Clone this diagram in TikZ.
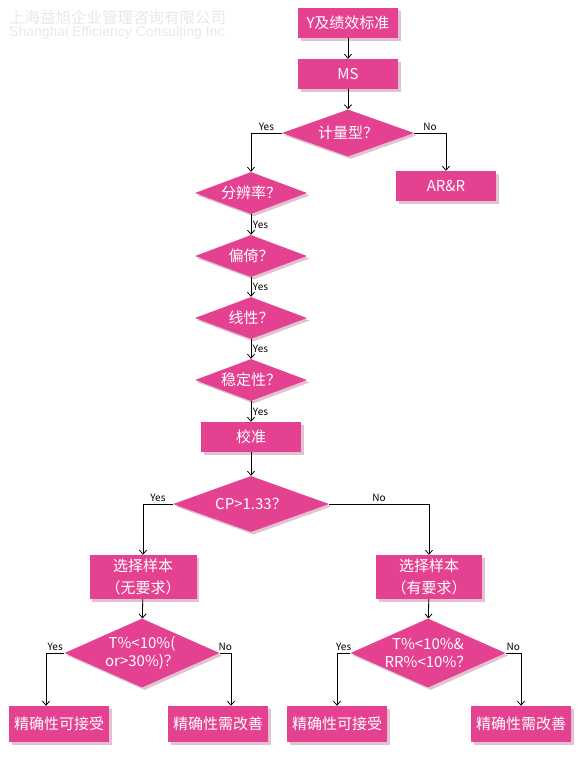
\documentclass[tikz,border=0pt]{standalone}
\usepackage{fontspec}
\setmainfont{Noto Sans CJK SC}
\newfontfamily\wmfont{Liberation Sans}
\usetikzlibrary{shapes.geometric,shadows,arrows.meta}
\definecolor{rose}{RGB}{228,66,145}
\definecolor{roseshade}{RGB}{214,168,190}
\definecolor{wmgray}{RGB}{232,232,232}
\tikzset{
    stepbox/.style={rectangle, fill=rose, text=white, minimum width=100, minimum height=30,
        inner sep=2pt, align=center, font=\fontsize{15}{22}\selectfont,
        drop shadow={shadow xshift=2.5pt, shadow yshift=-2.5pt, fill=roseshade, opacity=0.7}},
    query/.style={diamond, aspect=2.6, fill=rose, text=white, minimum width=112, minimum height=42,
        inner sep=0pt, align=center, font=\fontsize{15}{18}\selectfont,
        drop shadow={shadow xshift=2.5pt, shadow yshift=-2.5pt, fill=roseshade, opacity=0.7}},
    flow/.style={line width=0.8pt, -{Straight Barb[length=4pt,width=7pt]}},
    tag/.style={font=\fontsize{10}{12}\selectfont, inner sep=1.5pt}
}
\begin{document}
\begin{tikzpicture}[x=1pt, y=1pt]
    \useasboundingbox (0,0) rectangle (587,-758);

    % watermark
    \node (wmcn) [anchor=west, text=wmgray, font=\fontsize{15.5}{16}\selectfont, inner sep=0pt] at (9,-18) {上海益旭企业管理咨询有限公司};
    \node (wmen) [anchor=west, text=wmgray, font=\wmfont\fontsize{14}{15}\selectfont, inner sep=0pt] at (9,-33) {Shanghai Efficiency Consulting Inc.};

    % main chain
    \node (ystd) [stepbox] at (348,-23) {Y及绩效标准};
    \node (ms) [stepbox] at (348,-74) {MS};
    \node (qvar) [query, aspect=2.8, minimum width=132, minimum height=47] at (348,-133) {计量型？};
    \node (arr) [stepbox] at (446,-186) {AR\&R};
    \node (qres) [query] at (251,-193) {分辨率？};
    \node (qbias) [query] at (251,-256) {偏倚？};
    \node (qlin) [query] at (251,-318) {线性？};
    \node (qstab) [query] at (251,-380) {稳定性？};
    \node (cal) [stepbox] at (251,-437) {校准};
    \node (qcp) [query, aspect=2.8, minimum width=156, minimum height=56] at (251,-504) {CP>1.33？};

    % two branches
    \node (freeL) [stepbox, minimum width=107, minimum height=44] at (143,-577) {选择样本\\（无要求）};
    \node (freeR) [stepbox, minimum width=106, minimum height=44] at (429,-577) {选择样本\\（有要求）};
    \node (qtL) [query, aspect=2.25, minimum width=155, minimum height=69] at (142,-653) {T\%<10\%(\\or>30\%)？};
    \node (qtR) [query, aspect=2.25, minimum width=155, minimum height=69] at (428,-653) {T\%<10\%\&\\RR\%<10\%？};
    \node (okL) [stepbox, minimum height=36] at (59,-724) {精确性可接受};
    \node (fixL) [stepbox, minimum height=36] at (218,-724) {精确性需改善};
    \node (okR) [stepbox, minimum height=36] at (337,-724) {精确性可接受};
    \node (fixR) [stepbox, minimum height=36] at (521,-724) {精确性需改善};

    \draw[flow] (ystd) -- (ms);
    \draw[flow] (ms) -- (qvar);
    \draw[flow] (qvar.west) -| node[tag, pos=0.25, above] {Yes} (qres.north);
    \draw[flow] (qvar.east) -| node[tag, pos=0.25, above] {No} (arr.north);
    \draw[flow] (qres) -- node[tag, right] {Yes} (qbias);
    \draw[flow] (qbias) -- node[tag, right] {Yes} (qlin);
    \draw[flow] (qlin) -- node[tag, right] {Yes} (qstab);
    \draw[flow] (qstab) -- node[tag, right] {Yes} (cal);
    \draw[flow] (cal) -- (qcp);
    \draw[flow] (qcp.west) -| node[tag, pos=0.25, above] {Yes} (freeL.north);
    \draw[flow] (qcp.east) -| node[tag, pos=0.25, above] {No} (freeR.north);
    \draw[flow] (freeL) -- (qtL);
    \draw[flow] (freeR) -- (qtR);
    \draw[flow] (qtL.west) -| node[tag, pos=0.25, above] {Yes} ([xshift=-13]okL.north);
    \draw[flow] (qtL.east) -| node[tag, pos=0.25, above] {No} ([xshift=13]fixL.north);
    \draw[flow] (qtR.west) -| node[tag, pos=0.25, above] {Yes} (okR.north);
    \draw[flow] (qtR.east) -| node[tag, pos=0.25, above] {No} (fixR.north);
\end{tikzpicture}
\end{document}
